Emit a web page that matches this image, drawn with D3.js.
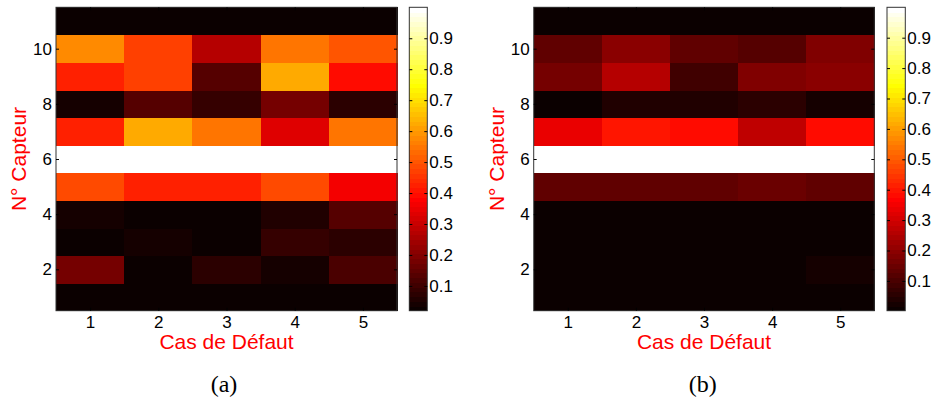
<!DOCTYPE html>
<html>
<head>
<meta charset="utf-8">
<script src="https://cdn.jsdelivr.net/npm/d3@7/dist/d3.min.js"></script>
<style>
  html, body { margin: 0; padding: 0; background: #fff; }
  svg { display: block; }
  text { font-family: "Liberation Sans", Arial, sans-serif; }
</style>
</head>
<body>
<svg id="chart" width="932" height="398"></svg>
<script>
// ---- Data ----
const cases = [1, 2, 3, 4, 5];                       // Cas de Défaut
const capteurs = [1, 2, 3, 4, 5, 6, 7, 8, 9, 10, 11]; // N° Capteur
const xTicks = [1, 2, 3, 4, 5];
const yTicks = [2, 4, 6, 8, 10];
const cbTicks = [0.1, 0.2, 0.3, 0.4, 0.5, 0.6, 0.7, 0.8, 0.9];
const captions = ["(a)", "(b)"];

// values per capteur (row 1..11), each with 5 cases
const valuesA = [
  [0.020, 0.020, 0.020, 0.020, 0.020],
  [0.180, 0.028, 0.074, 0.050, 0.120],
  [0.025, 0.043, 0.025, 0.089, 0.074],
  [0.043, 0.028, 0.028, 0.058, 0.130],
  [0.487, 0.425, 0.425, 0.487, 0.365],
  [1.000, 1.000, 1.000, 1.000, 1.000],
  [0.425, 0.630, 0.548, 0.334, 0.548],
  [0.043, 0.130, 0.089, 0.180, 0.074],
  [0.425, 0.472, 0.130, 0.630, 0.400],
  [0.579, 0.472, 0.273, 0.548, 0.500],
  [0.025, 0.025, 0.025, 0.025, 0.025]
];
const valuesB = [
  [0.002, 0.003, 0.003, 0.003, 0.003],
  [0.005, 0.005, 0.005, 0.005, 0.023],
  [0.005, 0.005, 0.005, 0.005, 0.005],
  [0.005, 0.005, 0.005, 0.005, 0.005],
  [0.133, 0.133, 0.135, 0.148, 0.133],
  [1.000, 1.000, 1.000, 1.000, 1.000],
  [0.336, 0.398, 0.383, 0.273, 0.383],
  [0.008, 0.039, 0.039, 0.055, 0.023],
  [0.164, 0.258, 0.086, 0.180, 0.195],
  [0.133, 0.195, 0.133, 0.125, 0.180],
  [0.005, 0.005, 0.005, 0.005, 0.005]
];

// MATLAB "hot" colormap, 64 entries
const hot = d3.range(64).map(i => {
  const r = i < 24 ? (i + 1) / 24 : 1;
  const g = i < 24 ? 0 : (i < 48 ? (i - 23) / 24 : 1);
  const b = i < 48 ? 0 : (i - 47) / 16;
  return d3.rgb(r * 255, g * 255, b * 255).toString();
});

const svg = d3.select("#chart");
const yTop = 7.3, yBottom = 310.7;
const SANS = "'Liberation Sans', Arial, sans-serif";
const TICK_FS = 17;

const panels = [
  { values: valuesA, x0: 56, x1: 397, cb0: 409.3, cb1: 427.3, ylabX: 18, capX: 224 },
  { values: valuesB, x0: 533.7, x1: 874.3, cb0: 887, cb1: 905.3, ylabX: 496, capX: 702.7 }
];

panels.forEach((p, pi) => {
  const g = svg.append("g");
  const flat = p.values.flat();
  const ext = d3.extent(flat);
  const color = d3.scaleQuantize().domain(ext).range(hot);
  const x = d3.scaleLinear().domain([0.5, 5.5]).range([p.x0, p.x1]);
  const y = d3.scaleLinear().domain([0.5, 11.5]).range([yBottom, yTop]);

  const cells = [];
  capteurs.forEach((c, ri) => cases.forEach((k, ci) => cells.push({ c, k, v: p.values[ri][ci] })));

  g.selectAll("rect.cell").data(cells).join("rect")
    .attr("class", "cell")
    .attr("x", d => x(d.k - 0.5))
    .attr("y", d => y(d.c + 0.5))
    .attr("width", d => x(d.k + 0.5) - x(d.k - 0.5) + 0.6)
    .attr("height", d => y(d.c - 0.5) - y(d.c + 0.5) + 0.6)
    .attr("shape-rendering", "crispEdges")
    .attr("fill", d => color(d.v));

  // frame
  g.append("rect")
    .attr("x", p.x0).attr("y", yTop)
    .attr("width", p.x1 - p.x0).attr("height", yBottom - yTop)
    .attr("fill", "none").attr("stroke", "#333").attr("stroke-width", 1);

  const styleAxis = (sel, labels) => {
    sel.select(".domain").remove();
    sel.selectAll(".tick line").attr("stroke", "#000");
    sel.selectAll("text").attr("font-size", TICK_FS).attr("fill", "#000")
      .style("font-family", SANS);
    if (!labels) sel.selectAll("text").remove();
  };
  const fontAxis = s => s.attr("font-family", SANS).attr("font-size", TICK_FS);

  g.append("g").attr("transform", `translate(${p.x0},0)`)
    .call(d3.axisLeft(y).tickValues(yTicks).tickSize(-3).tickPadding(4).tickFormat(d3.format("d")))
    .call(fontAxis).call(s => styleAxis(s, true));
  g.append("g").attr("transform", `translate(${p.x1},0)`)
    .call(d3.axisRight(y).tickValues(yTicks).tickSize(-3))
    .call(s => styleAxis(s, false));
  g.append("g").attr("transform", `translate(0,${yBottom})`)
    .call(d3.axisBottom(x).tickValues(xTicks).tickSize(-3).tickPadding(5).tickFormat(d3.format("d")))
    .call(fontAxis).call(s => styleAxis(s, true));
  g.append("g").attr("transform", `translate(0,${yTop})`)
    .call(d3.axisTop(x).tickValues(xTicks).tickSize(-3))
    .call(s => styleAxis(s, false));

  // colorbar
  const cy = d3.scaleLinear().domain(ext).range([yBottom, yTop]);
  const step = (ext[1] - ext[0]) / hot.length;
  g.selectAll("rect.cb").data(hot).join("rect")
    .attr("class", "cb")
    .attr("x", p.cb0)
    .attr("width", p.cb1 - p.cb0)
    .attr("y", (d, i) => cy(ext[0] + (i + 1) * step))
    .attr("height", (d, i) => cy(ext[0] + i * step) - cy(ext[0] + (i + 1) * step) + 0.6)
    .attr("shape-rendering", "crispEdges")
    .attr("fill", d => d);
  g.append("rect")
    .attr("x", p.cb0).attr("y", yTop)
    .attr("width", p.cb1 - p.cb0).attr("height", yBottom - yTop)
    .attr("fill", "none").attr("stroke", "#333").attr("stroke-width", 1);
  g.append("g").attr("transform", `translate(${p.cb1},0)`)
    .call(d3.axisRight(cy).tickValues(cbTicks).tickSize(-3).tickPadding(2).tickFormat(d3.format(".1f")))
    .call(fontAxis).call(s => styleAxis(s, true));
  g.append("g").attr("transform", `translate(${p.cb0},0)`)
    .call(d3.axisLeft(cy).tickValues(cbTicks).tickSize(-3))
    .call(s => styleAxis(s, false));

  // labels
  g.append("text")
    .attr("x", (p.x0 + p.x1) / 2).attr("y", 349)
    .attr("text-anchor", "middle").attr("font-size", 21).attr("fill", "#ff0000")
    .style("font-family", SANS)
    .text("Cas de Défaut");
  g.append("text")
    .attr("transform", `translate(${p.ylabX + 7.5},${(yTop + yBottom) / 2}) rotate(-90)`)
    .attr("text-anchor", "middle").attr("font-size", 21).attr("fill", "#ff0000")
    .style("font-family", SANS)
    .text("N° Capteur");
  g.append("text")
    .attr("x", p.capX).attr("y", 392)
    .attr("text-anchor", "middle").attr("font-size", 24)
    .style("font-family", "'Liberation Serif', 'Times New Roman', serif")
    .attr("fill", "#000")
    .text(captions[pi]);
});
</script>
</body>
</html>
